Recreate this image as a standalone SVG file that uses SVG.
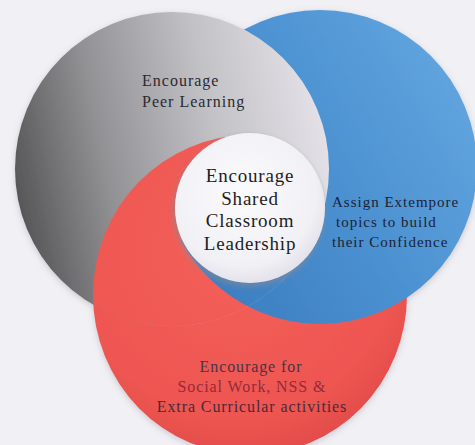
<svg xmlns="http://www.w3.org/2000/svg" width="475" height="445" viewBox="0 0 475 445">
  <style>
    .t { font-family: "Liberation Serif", "DejaVu Serif", serif; }
    .gray-t { font-size: 16px; letter-spacing: 1px; fill: #2b2a2e; }
    .center-t { font-size: 19px; letter-spacing: 0.8px; fill: #1e1e22; text-anchor: middle; }
    .blue-t { font-size: 15px; letter-spacing: 1px; fill: #1b2236; }
    .red-t { font-size: 16px; letter-spacing: 0.9px; text-anchor: middle; }
  </style>
  <defs>
    <linearGradient id="gGray" x1="0" y1="0.6" x2="1" y2="0.4">
      <stop offset="0" stop-color="#555557"/>
      <stop offset="0.3" stop-color="#929295"/>
      <stop offset="0.65" stop-color="#c2c1c6"/>
      <stop offset="1" stop-color="#e4e2e8"/>
    </linearGradient>
    <linearGradient id="gBlue" x1="0" y1="0.8" x2="1" y2="0.2">
      <stop offset="0" stop-color="#3a7bbd"/>
      <stop offset="0.5" stop-color="#4b90d0"/>
      <stop offset="1" stop-color="#62a6e0"/>
    </linearGradient>
    <radialGradient id="gRed" cx="0.45" cy="0.35" r="0.7">
      <stop offset="0" stop-color="#f4605a"/>
      <stop offset="0.75" stop-color="#ee5651"/>
      <stop offset="1" stop-color="#df4a48"/>
    </radialGradient>
    <radialGradient id="gWhite" cx="0.45" cy="0.4" r="0.65">
      <stop offset="0" stop-color="#fbfbfd"/>
      <stop offset="0.75" stop-color="#f1f0f5"/>
      <stop offset="1" stop-color="#dedde6"/>
    </radialGradient>
    <filter id="shadow" x="-10%" y="-10%" width="120%" height="120%">
      <feDropShadow dx="0" dy="2" stdDeviation="3" flood-color="#707080" flood-opacity="0.3"/>
    </filter>
    <filter id="blur" x="-20%" y="-20%" width="140%" height="140%">
      <feGaussianBlur stdDeviation="2.5"/>
    </filter>
    <clipPath id="cGrayLeft">
      <path d="M250,32.75 A157,157 0 1 0 250,305.25 Z"/>
    </clipPath>
    <clipPath id="cGrayLow">
      <path d="M312,240 L32,240 A157,157 0 0 0 312,240 Z"/>
    </clipPath>
  </defs>

  <rect width="475" height="445" fill="#f1f0f4"/>

  <g filter="url(#shadow)">
    <g id="node-red">
      <ellipse cx="250" cy="295" rx="157" ry="160" fill="url(#gRed)"/>
    </g>
    <g id="node-blue">
      <circle cx="320" cy="167" r="157" fill="url(#gBlue)"/>
    </g>
    <g id="node-gray">
      <circle cx="172" cy="169" r="157" fill="url(#gGray)"/>
    </g>
  </g>

  <g id="node-red-overlap" clip-path="url(#cGrayLeft)">
    <ellipse cx="250" cy="295" rx="157" ry="160" fill="url(#gRed)"/>
  </g>
  <g id="node-blue-overlap" clip-path="url(#cGrayLow)">
    <circle cx="320" cy="167" r="157" fill="url(#gBlue)"/>
  </g>

  <g id="node-center">
    <circle cx="249" cy="211" r="76" fill="#8a8a96" opacity="0.55" filter="url(#blur)"/>
    <circle cx="250" cy="208" r="75" fill="url(#gWhite)"/>
    <text class="t center-t" x="250" y="182">Encourage</text>
    <text class="t center-t" x="250" y="205">Shared</text>
    <text class="t center-t" x="250" y="227">Classroom</text>
    <text class="t center-t" x="250" y="250">Leadership</text>
  </g>

  <g id="label-gray">
    <text class="t gray-t" x="142" y="86">Encourage</text>
    <text class="t gray-t" x="142" y="107">Peer Learning</text>
  </g>

  <g id="label-blue">
    <text class="t blue-t" x="332" y="207">Assign Extempore</text>
    <text class="t blue-t" x="336" y="227">topics to build</text>
    <text class="t blue-t" x="332" y="247">their Confidence</text>
  </g>

  <g id="label-red">
    <text class="t red-t" x="251" y="372" fill="#4a3442">Encourage for</text>
    <text class="t red-t" x="252" y="392" fill="#952a3a">Social Work, NSS &amp;</text>
    <text class="t red-t" x="252" y="412" fill="#4a2a38">Extra Curricular activities</text>
  </g>
</svg>
